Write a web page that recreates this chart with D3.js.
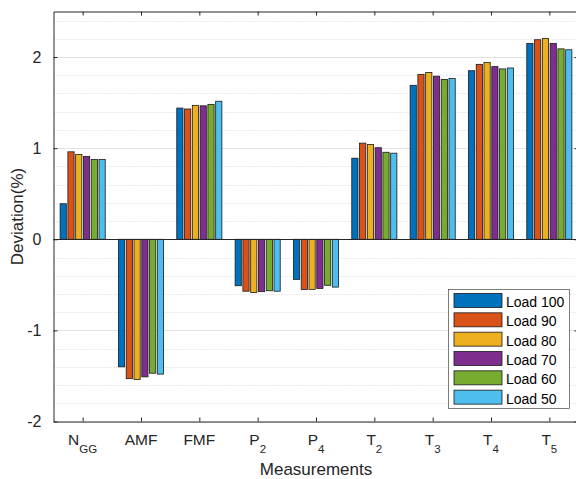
<!DOCTYPE html>
<html><head><meta charset="utf-8">
<script src="https://cdn.jsdelivr.net/npm/d3@7"></script>
<style>html,body{margin:0;padding:0;background:#fff;}svg{display:block;font-family:"Liberation Sans",Arial,Helvetica,sans-serif;}</style>
</head><body><svg id="c" width="576" height="479"></svg>
<script>
const catBase = ["N","AMF","FMF","P","P","T","T","T","T"];
const catSub  = ["GG","","","2","4","2","3","4","5"];
const seriesNames = ["Load 100","Load 90","Load 80","Load 70","Load 60","Load 50"];
const load100 = [0.39, -1.40, 1.44, -0.51, -0.44, 0.89, 1.69, 1.85, 2.15];
const load90  = [0.96, -1.53, 1.43, -0.57, -0.55, 1.055, 1.81, 1.92, 2.19];
const load80  = [0.93, -1.54, 1.47, -0.585, -0.55, 1.04, 1.83, 1.94, 2.205];
const load70  = [0.91, -1.51, 1.465, -0.575, -0.54, 1.005, 1.79, 1.895, 2.15];
const load60  = [0.875, -1.47, 1.48, -0.565, -0.505, 0.955, 1.755, 1.87, 2.09];
const load50  = [0.875, -1.48, 1.515, -0.57, -0.525, 0.945, 1.765, 1.88, 2.08];
const yTicks = [-2, -1, 0, 1, 2];
const yTickLabels = ["-2", "-1", "0", "1", "2"];
const colors = ["#0072BD","#D95319","#EDB120","#7E2F8E","#77AC30","#4DBEEE"];

const series = [load100, load90, load80, load70, load60, load50];
const svg = d3.select("#c");
const L = 53.5, R = 578.5, T = 11.5, B = 421.5;
const x = d3.scaleLinear().domain([0.5, 9.5]).range([L, R]);
const y = d3.scaleLinear().domain([-2, 2.5]).range([B, T]);
const axisCol = "#262626";

// minor grid
const minor = d3.range(-2, 2.5001, 0.2).filter(v => Math.abs(v - Math.round(v)) > 1e-6);
svg.append("g").selectAll("line").data(minor).join("line")
  .attr("x1", L).attr("x2", R)
  .attr("y1", d => Math.round(y(d)) + 0.5).attr("y2", d => Math.round(y(d)) + 0.5)
  .attr("stroke", "#d4d4d4").attr("stroke-width", 1).attr("stroke-dasharray", "1,2");
// major grid
svg.append("g").selectAll("line").data(yTicks).join("line")
  .attr("x1", L).attr("x2", R)
  .attr("y1", d => Math.round(y(d)) + 0.5).attr("y2", d => Math.round(y(d)) + 0.5)
  .attr("stroke", "#e2e2e2").attr("stroke-width", 1);

// bars
const n = series.length;
const slot = 0.8 / n;
const bw = slot * 0.8;
const gBars = svg.append("g");
series.forEach((s, si) => {
  gBars.append("g").selectAll("rect").data(s).join("rect")
    .attr("x", (d, i) => x(i + 1 - 0.4 + slot * si + (slot - bw) / 2))
    .attr("width", x(bw) - x(0))
    .attr("y", d => y(Math.max(0, d)))
    .attr("height", d => Math.abs(y(d) - y(0)))
    .attr("fill", colors[si])
    .attr("stroke", "#1a1a1a").attr("stroke-width", 0.8);
});
// baseline
svg.append("line").attr("x1", L).attr("x2", R)
  .attr("y1", Math.round(y(0)) + 0.5).attr("y2", Math.round(y(0)) + 0.5)
  .attr("stroke", "#262626").attr("stroke-width", 1);

// axes box
const yAxisL = d3.axisLeft(y).tickValues(yTicks).tickSizeInner(-4).tickSizeOuter(0).tickPadding(12)
  .tickFormat((d, i) => yTickLabels[i]);
const gy = svg.append("g").attr("transform", `translate(${L},0)`).call(yAxisL);
const yAxisR = d3.axisRight(y).tickValues(yTicks).tickSizeInner(-4).tickSizeOuter(0).tickFormat("");
svg.append("g").attr("transform", `translate(${R},0)`).call(yAxisR);
const cats = d3.range(1, 10);
const xAxisB = d3.axisBottom(x).tickValues(cats).tickSizeInner(-4).tickSizeOuter(0).tickFormat("");
svg.append("g").attr("transform", `translate(0,${B})`).call(xAxisB);
const xAxisT = d3.axisTop(x).tickValues(cats).tickSizeInner(-4).tickSizeOuter(0).tickFormat("");
svg.append("g").attr("transform", `translate(0,${T})`).call(xAxisT);
svg.selectAll(".domain").attr("stroke", axisCol);
svg.selectAll(".tick line").attr("stroke", axisCol);
gy.selectAll(".tick text").attr("font-size", 16).attr("fill", axisCol).attr("font-family", "Liberation Sans, Arial, sans-serif");

// x tick labels with subscripts
const xl = svg.append("g").selectAll("text").data(cats).join("text")
  .attr("x", d => x(d)).attr("y", 445)
  .attr("text-anchor", "middle").attr("font-size", 15.5).attr("fill", axisCol);
xl.each(function(d, i) {
  const t = d3.select(this);
  t.append("tspan").text(catBase[i]);
  if (catSub[i]) t.append("tspan").attr("dy", 7.5).attr("font-size", 11.5).text(catSub[i]);
});

// axis labels
svg.append("text").attr("x", (L + R) / 2).attr("y", 475).attr("text-anchor", "middle")
  .attr("font-size", 17).attr("fill", axisCol).text("Measurements");
svg.append("text").attr("transform", `translate(23,${(T + B) / 2}) rotate(-90)`)
  .attr("text-anchor", "middle").attr("font-size", 17).attr("fill", axisCol).text("Deviation(%)");

// legend
const lg = svg.append("g");
lg.append("rect").attr("x", 448.5).attr("y", 289.5).attr("width", 121).attr("height", 119)
  .attr("fill", "#fff").attr("stroke", "#262626").attr("stroke-width", 0.6);
seriesNames.forEach((nm, i) => {
  const ry = 293.5 + i * 19.33;
  lg.append("rect").attr("x", 454).attr("y", ry).attr("width", 48).attr("height", 14)
    .attr("fill", colors[i]).attr("stroke", "#1a1a1a").attr("stroke-width", 0.8);
  lg.append("text").attr("x", 506).attr("y", ry + 13.5).attr("font-size", 14)
    .attr("fill", "#000").text(nm);
});
</script></body></html>
